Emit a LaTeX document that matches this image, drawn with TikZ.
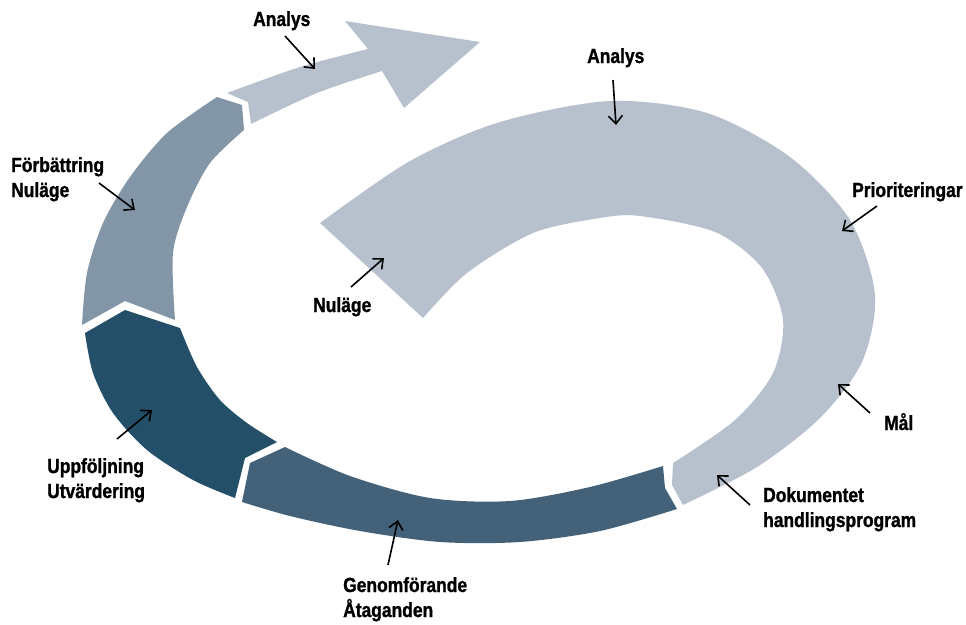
\documentclass[tikz,border=0pt]{standalone}
\usepackage{fontspec}
\setmainfont[FakeStretch=0.85, BoldFeatures={FakeBold=1.2}]{Liberation Sans}
\usetikzlibrary{arrows.meta}

\definecolor{lightring}{HTML}{B7C1CE}
\definecolor{midring}{HTML}{8396A8}
\definecolor{darkring}{HTML}{234F68}
\definecolor{slatering}{HTML}{436279}

\begin{document}
\begin{tikzpicture}[x=1pt,y=-1pt,
	steplabel/.style={font=\bfseries\fontsize{20.5}{25}\selectfont, inner sep=0pt, align=left, anchor=base west},
	pointer/.style={line width=1.6pt, -{Straight Barb[length=8pt,width=14pt]}}]
	\useasboundingbox (0,0) rectangle (966,624);

	% the inner spiral, from Nuläge round to Dokumentet
	\fill[lightring] plot[smooth] coordinates {(320,223) (410,161) (500,122) (610,101) (707,113) (790,157) (850,220) (875,295)
			(862,362) (820,418) (757,467) (683,505)}
		-- (672,485) -- plot[smooth] coordinates {(673,463) (735,420) (773,373) (783,320) (762,268) (715,232) (640,216) (600,218)
			(533,233) (467,273) (423,318)} -- cycle;

	% Genomförande
	\fill[slatering] (242,502) -- (250,463) -- plot[smooth] coordinates {(285,447) (350,476) (430,498) (510,501) (590,487) (663,466)}
		-- (665,488) -- plot[smooth] coordinates {(677,509) (600,531) (520,542) (440,542) (360,531) (290,516) (242,502)} -- cycle;

	% Uppföljning
	\fill[darkring] (85,333) -- (125,310) -- plot[smooth] coordinates {(180,328) (197,367) (220,400) (247,423) (277,442)}
		-- (245,458) -- plot[smooth] coordinates {(235,498) (193,480) (147,450) (113,413) (93,373) (85,333)} -- cycle;

	% Förbättring
	\fill[midring] (82,325) -- (125,301) -- plot[smooth] coordinates {(175,320) (173,253) (187,207) (210,163) (244,130)}
		-- (242,105) -- plot[smooth] coordinates {(217,97) (167,133) (130,177) (103,223) (87,273) (82,325)} -- cycle;

	% the outgoing arrow (Analys)
	\fill[lightring] (227,93) -- (248,102) -- plot[smooth] coordinates {(251,124) (317,93) (382,71)}
		-- (404,108) -- (480,42) -- (345,21) -- plot[smooth] coordinates {(368,49) (300,67) (227,93)} -- cycle;

	% labels (base = last line)
	\node[steplabel] (analysOut)    at (253,26)  {Analys};
	\node[steplabel] (forbattring)  at (11,197)  {Förbättring\\Nuläge};
	\node[steplabel] (nulage)       at (313,312) {Nuläge};
	\node[steplabel] (analysIn)     at (587,63)  {Analys};
	\node[steplabel] (prio)         at (852,197) {Prioriteringar};
	\node[steplabel] (mal)          at (884,430) {Mål};
	\node[steplabel] (dokument)     at (763,527) {Dokumentet\\handlingsprogram};
	\node[steplabel] (genomforande) at (343,617) {Genomförande\\Åtaganden};
	\node[steplabel] (uppfoljning)  at (47,498)  {Uppföljning\\Utvärdering};

	% pointer ends
	\coordinate (analysOutA) at (285,36);   \coordinate (analysOutB) at (315,69);
	\coordinate (forbattringA) at (99,183); \coordinate (forbattringB) at (135,210);
	\coordinate (nulageA) at (351,287);     \coordinate (nulageB) at (384,258);
	\coordinate (analysInA) at (613,80);    \coordinate (analysInB) at (616,125);
	\coordinate (prioA) at (877,206);       \coordinate (prioB) at (842,231);
	\coordinate (malA) at (870,413);        \coordinate (malB) at (838,384);
	\coordinate (dokumentA) at (750,505);   \coordinate (dokumentB) at (717,475);
	\coordinate (genomforandeA) at (388,565); \coordinate (genomforandeB) at (398,520);
	\coordinate (uppfoljningA) at (117,439); \coordinate (uppfoljningB) at (152,410);

	\foreach \p in {analysOut,forbattring,nulage,analysIn,prio,mal,dokument,genomforande,uppfoljning}
		\draw[pointer] (\p A) -- (\p B);
\end{tikzpicture}
\end{document}
